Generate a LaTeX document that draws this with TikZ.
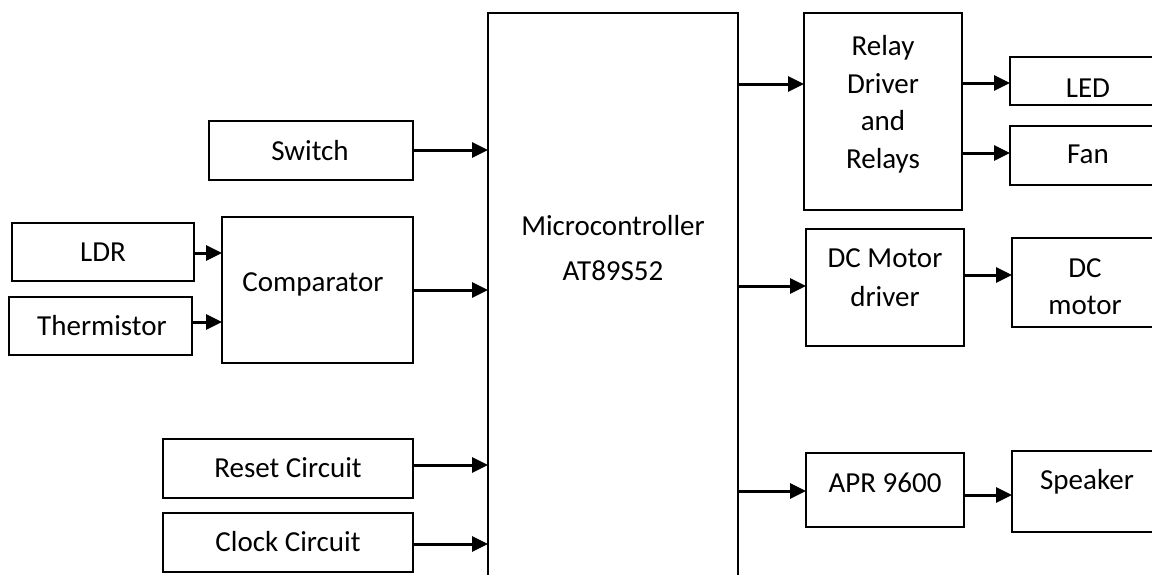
\documentclass[tikz,border=0pt]{standalone}
\usepackage{fontspec}
\setmainfont{Carlito}
\usetikzlibrary{arrows.meta}
\begin{document}
\begin{tikzpicture}[x=1pt,y=-1pt,
  box/.style={draw,line width=2pt,inner sep=0pt,outer sep=0pt,anchor=north west},
  txt/.style={anchor=base,inner sep=0pt,font=\fontsize{29}{38}\selectfont},
  arr/.style={line width=3pt,-{Triangle[length=16pt,width=15pt]}}]
\clip (0,0) rectangle (1152,574);
\fill[white] (0,0) rectangle (1152,574);

% input blocks
\node[box,minimum width=204pt,minimum height=59pt] (switch) at (209,121) {};
\node[box,minimum width=182pt,minimum height=58pt] (ldr) at (12,223) {};
\node[box,minimum width=183pt,minimum height=58pt] (therm) at (9,297) {};
\node[box,minimum width=191pt,minimum height=146pt] (comp) at (222,217) {};
\node[box,minimum width=250pt,minimum height=59pt] (reset) at (163,439) {};
\node[box,minimum width=250pt,minimum height=59pt] (clock) at (163,513) {};

% controller
\node[box,minimum width=250pt,minimum height=620pt] (micro) at (488,13) {};

% output blocks
\node[box,minimum width=158pt,minimum height=197pt] (relay) at (804,13) {};
\node[box,minimum width=200pt,minimum height=48pt] (led) at (1010,57) {};
\node[box,minimum width=200pt,minimum height=59pt] (fan) at (1010,126) {};
\node[box,minimum width=158pt,minimum height=117pt] (dcdrv) at (806,229) {};
\node[box,minimum width=200pt,minimum height=89pt] (dcmot) at (1012,238) {};
\node[box,minimum width=158pt,minimum height=74pt] (apr) at (806,453) {};
\node[box,minimum width=200pt,minimum height=81pt] (spk) at (1012,451) {};

% labels
\node[txt] (tswitch) at (310,160) {Switch};
\node[txt] (tldr) at (103,261) {LDR};
\node[txt] (ttherm) at (102,335) {Thermistor};
\node[txt] (tcomp) at (313,291) {Comparator};
\node[txt] (treset) at (288,477) {Reset Circuit};
\node[txt] (tclock) at (288,551) {Clock Circuit};
\node[txt] (tmicroa) at (613,235) {Microcontroller};
\node[txt] (tmicrob) at (613,280) {AT89S52};
\node[txt] (trelaya) at (883,55) {Relay};
\node[txt] (trelayb) at (883,93) {Driver};
\node[txt] (trelayc) at (883,130) {and};
\node[txt] (trelayd) at (883,168) {Relays};
\node[txt] (tled) at (1088,97) {LED};
\node[txt] (tfan) at (1088,163) {Fan};
\node[txt] (tdcdrva) at (885,267) {DC Motor};
\node[txt] (tdcdrvb) at (885,306) {driver};
\node[txt] (tdcmota) at (1085,277) {DC};
\node[txt] (tdcmotb) at (1085,314) {motor};
\node[txt] (tapr) at (885,492) {APR 9600};
\node[txt] (tspk) at (1087,489) {Speaker};

% signal arrows
\draw[arr] (switch.east |- 0,150) -- (micro.west |- 0,150);
\draw[arr] (ldr.east |- 0,253) -- (comp.west |- 0,253);
\draw[arr] (therm.east |- 0,322) -- (comp.west |- 0,322);
\draw[arr] (comp.east |- 0,290) -- (micro.west |- 0,290);
\draw[arr] (reset.east |- 0,465) -- (micro.west |- 0,465);
\draw[arr] (clock.east |- 0,544) -- (micro.west |- 0,544);
\draw[arr] (micro.east |- 0,84) -- (relay.west |- 0,84);
\draw[arr] (relay.east |- 0,83) -- (led.west |- 0,83);
\draw[arr] (relay.east |- 0,153) -- (fan.west |- 0,153);
\draw[arr] (micro.east |- 0,286) -- (dcdrv.west |- 0,286);
\draw[arr] (dcdrv.east |- 0,275) -- (dcmot.west |- 0,275);
\draw[arr] (micro.east |- 0,491) -- (apr.west |- 0,491);
\draw[arr] (apr.east |- 0,495) -- (spk.west |- 0,495);
\end{tikzpicture}
\end{document}
